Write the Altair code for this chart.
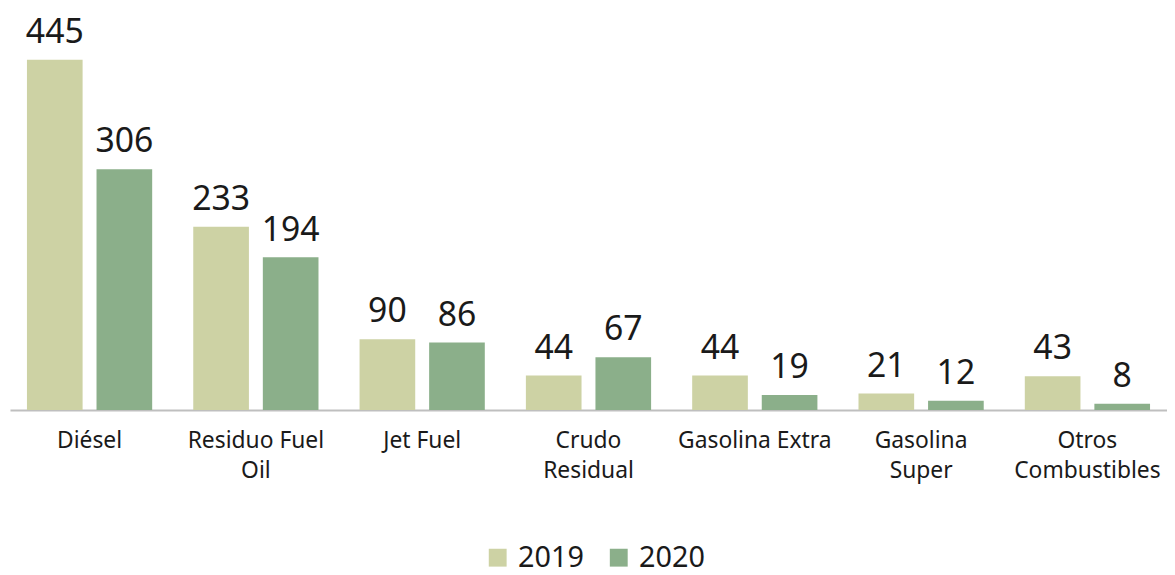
import altair as alt
import pandas as pd

categories = ["Diésel", "Residuo Fuel Oil", "Jet Fuel", "Crudo Residual",
              "Gasolina Extra", "Gasolina Super", "Otros Combustibles"]
label_lines = [["Diésel"], ["Residuo Fuel", "Oil"], ["Jet Fuel"], ["Crudo", "Residual"],
               ["Gasolina Extra"], ["Gasolina", "Super"], ["Otros", "Combustibles"]]
years = ["2019", "2020"]
values_2019 = [445, 233, 90, 44, 44, 21, 43]
values_2020 = [306, 194, 86, 67, 19, 12, 8]
colors = ["#CDD2A4", "#8BAF8A"]

rows = []
for c, a, b in zip(categories, values_2019, values_2020):
    rows.append({"cat": c, "year": "2019", "value": a})
    rows.append({"cat": c, "year": "2020", "value": b})
df = pd.DataFrame(rows)

expr = "''"
for c, lines in reversed(list(zip(categories, label_lines))):
    arr = "[" + ",".join("'" + l + "'" for l in lines) + "]"
    expr = f"datum.label == '{c}' ? {arr} : ({expr})"

FONT = "Noto Sans"

x = alt.X("cat:N", sort=categories, title=None,
          scale=alt.Scale(paddingInner=0.247, paddingOuter=0.102),
          axis=alt.Axis(labelAngle=0, ticks=False, domainColor="#BFBFBF", domainWidth=2,
                        labelFontSize=23, labelColor="#1a1a1a", labelFont=FONT,
                        labelLineHeight=30, labelPadding=20, labelExpr=expr,
                        labelBaseline="top"))
xo = alt.XOffset("year:N", scale=alt.Scale(paddingInner=0.2, paddingOuter=0))
y = alt.Y("value:Q", scale=alt.Scale(domain=[0, 499.2], nice=False), axis=None)

base = alt.Chart(df).encode(x=x, xOffset=xo, y=y)

bars = base.mark_bar().encode(
    color=alt.Color("year:N", scale=alt.Scale(domain=years, range=colors),
                    legend=alt.Legend(title=None, orient="none", legendX=477, legendY=530,
                                      direction="horizontal", symbolType="square",
                                      symbolSize=324, symbolStrokeWidth=0,
                                      labelFontSize=29, labelFont=FONT, labelColor="#1a1a1a",
                                      columnPadding=20, labelOffset=6))
)
text = base.mark_text(baseline="bottom", dy=-10, fontSize=34, font=FONT, color="#1a1a1a").encode(
    text="value:Q")

chart = (bars + text).properties(
    width=1166, height=396,
    padding={"top": 5, "left": 2, "right": 0, "bottom": 0}
).configure_view(stroke=None).configure_axis(grid=False)

chart.save("out.html", embed_options={"renderer": "svg", "actions": False})
